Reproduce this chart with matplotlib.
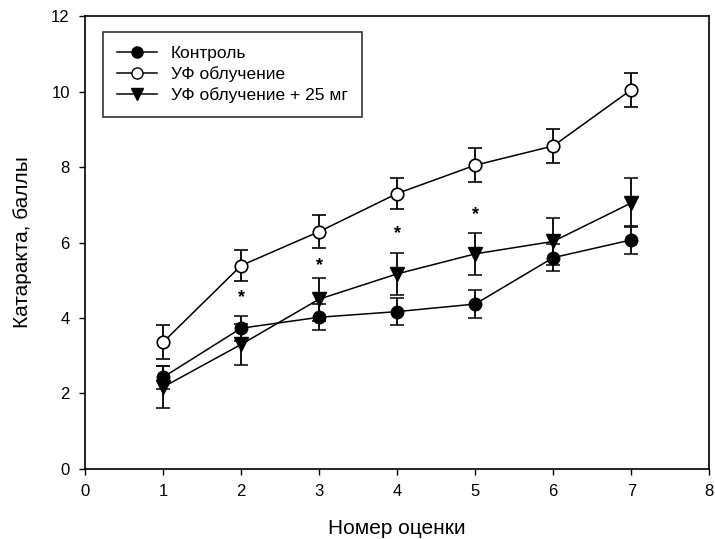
import numpy as np
import matplotlib.pyplot as plt
from matplotlib.lines import Line2D

plt.rcParams['font.family'] = ['Liberation Sans', 'DejaVu Sans']

nomer = [1, 2, 3, 4, 5, 6, 7]

kontrol = [2.43, 3.73, 4.02, 4.17, 4.37, 5.6, 6.07]
kontrol_err = [0.3, 0.33, 0.35, 0.35, 0.38, 0.35, 0.37]

uf = [3.36, 5.39, 6.29, 7.3, 8.05, 8.56, 10.05]
uf_err = [0.45, 0.42, 0.43, 0.42, 0.45, 0.45, 0.45]

uf25 = [2.17, 3.3, 4.5, 5.17, 5.7, 6.03, 7.05]
uf25_err = [0.55, 0.55, 0.57, 0.55, 0.55, 0.62, 0.65]

zvezda_x = [2, 3, 4, 5]
zvezda_y = [4.55, 5.4, 6.25, 6.75]

fig = plt.figure(figsize=(7.15, 5.39), dpi=100)
ax = fig.add_axes([0.119, 0.13, 0.873, 0.84])

eb = dict(color='black', lw=1.1, capsize=5, capthick=1.1, elinewidth=1.3)
ax.errorbar(nomer, kontrol, yerr=kontrol_err, marker='o', ms=9,
            mfc='black', mec='black', **eb)
ax.errorbar(nomer, uf, yerr=uf_err, marker='o', ms=9,
            mfc='white', mec='black', mew=1.2, **eb)
ax.errorbar(nomer, uf25, yerr=uf25_err, marker='v', ms=10,
            mfc='black', mec='black', **eb)

for x, y in zip(zvezda_x, zvezda_y):
    ax.text(x, y, '*', ha='center', va='center', fontsize=13, fontweight='bold')

ax.set_xlim(0, 8)
ax.set_ylim(0, 12)
ax.set_xticks(range(0, 9))
ax.set_yticks(range(0, 13, 2))
ax.tick_params(direction='out', length=4, width=1, labelsize=12, pad=7)
for s in ax.spines.values():
    s.set_linewidth(1.2)

ax.set_xlabel('Номер оценки', fontsize=15, labelpad=14)
ax.set_ylabel('Катаракта, баллы', fontsize=15, labelpad=14)

handles = [
    Line2D([], [], color='black', lw=1.1, marker='o', ms=8, mfc='black', mec='black'),
    Line2D([], [], color='black', lw=1.1, marker='o', ms=8, mfc='white', mec='black'),
    Line2D([], [], color='black', lw=1.1, marker='v', ms=8, mfc='black', mec='black'),
]
labels = ['Контроль', 'УФ облучение', 'УФ облучение + 25 мг']
leg = ax.legend(handles, labels, loc='upper left', bbox_to_anchor=(0.029, 0.965),
                borderaxespad=0, fontsize=12.5, frameon=True, fancybox=False,
                edgecolor='black', handlelength=2.3, borderpad=0.8,
                labelspacing=0.3)
leg.get_frame().set_linewidth(1.2)

fig.savefig('out.png', dpi=100)
